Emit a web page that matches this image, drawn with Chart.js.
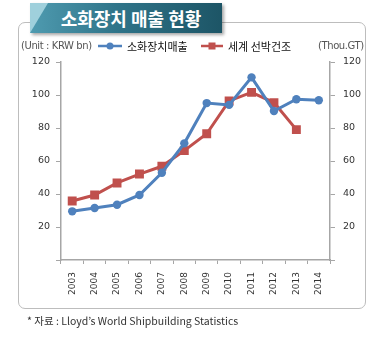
<!DOCTYPE html>
<html>
<head>
<meta charset="utf-8">
<script src="https://cdn.jsdelivr.net/npm/chart.js@4"></script>
<style>
  body { margin: 0; background: #fff; }
  #wrap { position: relative; width: 386px; height: 337px; overflow: hidden; }
  #frame { position: absolute; left: 18px; top: 22px; width: 348px; height: 287px;
           border: 1px solid #bdbdbd; border-radius: 7px; box-sizing: border-box; }
  #tab { position: absolute; left: 30px; top: 3px; width: 192px; height: 30px;
         background: linear-gradient(90deg, #4f9bb0 0%, #2f7489 45%, #1d5566 100%);
         box-shadow: 2px 2px 3px rgba(0,0,0,0.35); }
  #tab .slant { position: absolute; left: 0; top: 0; width: 0; height: 0;
                border-top: 30px solid #9fd0dc; border-right: 18px solid transparent; }
  #tab span { position: absolute; left: 0; right: 0; top: 4px; text-align: center; padding-left: 10px;
              color: #fff; font: bold 18px "Noto Sans CJK KR", sans-serif; line-height: 22px; }
  #chart { position: absolute; left: 0; top: 0; }
  .unit { position: absolute; top: 40px; font: 10px "DejaVu Sans", sans-serif; color: #555; letter-spacing: -0.4px; }
  #foot { position: absolute; left: 27px; top: 313px; font: 10.5px "Noto Sans CJK KR", sans-serif; color: #333; }
</style>
</head>
<body>
<div id="wrap">
  <div id="frame"></div>
  <div id="tab"><div class="slant"></div><span>소화장치 매출 현황</span></div>
  <canvas id="chart" width="386" height="337"></canvas>
  <div class="unit" style="left:21px">(Unit : KRW bn)</div>
  <div class="unit" style="left:318px">(Thou.GT)</div>
  <div id="foot">* 자료 : Lloyd’s World Shipbuilding Statistics</div>
</div>
<script>
// Data
const years = ["2003", "2004", "2005", "2006", "2007", "2008", "2009", "2010", "2011", "2012", "2013", "2014"];
const salesLabel = "소화장치매출";
const sales = [29.5, 31.5, 33.5, 39.4, 52.9, 70.7, 95.1, 94, 110.7, 90.3, 97.4, 96.8];
const shipLabel = "세계 선박건조";
const ship = [35.8, 39.4, 46.7, 52.1, 56.8, 66.3, 76.5, 96.4, 101.6, 95.4, 79, null];
const yTicks = [20, 40, 60, 80, 100, 120];

const blue = "#4f81bd";
const red = "#c0504d";
const axisGrey = "#a6a6a6";
const yFont = { family: "DejaVu Sans", size: 9.5 };
const xFont = { family: "DejaVu Sans", size: 9 };

// draws the legend (line with marker) above the plot
const legendPlugin = {
  id: "lineLegend",
  afterDraw(chart) {
    const ctx = chart.ctx;
    const items = [
      { x: 98, w: 24, color: blue, text: salesLabel, style: "circle" },
      { x: 201, w: 22, color: red, text: shipLabel, style: "rect" }
    ];
    const y = 46;
    ctx.save();
    items.forEach(it => {
      ctx.strokeStyle = it.color;
      ctx.lineWidth = 2.5;
      ctx.beginPath();
      ctx.moveTo(it.x, y);
      ctx.lineTo(it.x + it.w, y);
      ctx.stroke();
      ctx.fillStyle = it.color;
      const cx = it.x + it.w / 2;
      if (it.style === "circle") {
        ctx.beginPath();
        ctx.arc(cx, y, 3.5, 0, Math.PI * 2);
        ctx.fill();
      } else {
        ctx.fillRect(cx - 3.5, y - 3.5, 7, 7);
      }
      ctx.fillStyle = "#111";
      ctx.font = '11px "Noto Sans CJK KR"';
      ctx.textBaseline = "middle";
      ctx.fillText(it.text, it.x + it.w + 5, y + 1);
    });
    ctx.restore();
  }
};

const yCommon = {
  min: 0,
  max: 120,
  afterBuildTicks: s => { s.ticks = [0].concat(yTicks).map(v => ({ value: v })); },
  border: { color: axisGrey, width: 1.5 },
  grid: { drawOnChartArea: false, drawTicks: true, tickLength: 5, color: axisGrey },
  ticks: {
    color: "#333",
    font: yFont,
    padding: 6,
    callback: v => (v === 0 ? "" : v)
  }
};

new Chart(document.getElementById("chart"), {
  type: "line",
  data: {
    labels: years,
    datasets: [
      {
        label: salesLabel,
        data: sales,
        yAxisID: "y",
        borderColor: blue,
        backgroundColor: blue,
        borderWidth: 3,
        pointStyle: "circle",
        pointRadius: 4.2,
        pointBorderWidth: 0,
        tension: 0
      },
      {
        label: shipLabel,
        data: ship,
        yAxisID: "y2",
        borderColor: red,
        backgroundColor: red,
        borderWidth: 3,
        pointStyle: "rect",
        pointRadius: 6.3,
        pointBorderWidth: 0,
        tension: 0
      }
    ]
  },
  options: {
    responsive: false,
    animation: false,
    layout: { padding: { top: 62, left: 0, right: 0, bottom: 0 } },
    plugins: {
      legend: { display: false },
      tooltip: { enabled: false }
    },
    scales: {
      x: {
        type: "category",
        offset: true,
        afterFit: s => { s.height = 77; },
        border: { color: axisGrey, width: 1.5 },
        grid: { offset: true, drawOnChartArea: false, drawTicks: true, tickLength: 4, color: axisGrey },
        ticks: {
          color: "#333",
          font: xFont,
          minRotation: 90,
          maxRotation: 90,
          padding: 8
        }
      },
      y: Object.assign({}, yCommon, {
        position: "left",
        afterFit: s => { s.width = 61; }
      }),
      y2: Object.assign({}, yCommon, {
        position: "right",
        ticks: Object.assign({}, yCommon.ticks, { padding: 8 }),
        afterFit: s => { s.width = 56; }
      })
    }
  },
  plugins: [legendPlugin]
});
</script>
</body>
</html>
